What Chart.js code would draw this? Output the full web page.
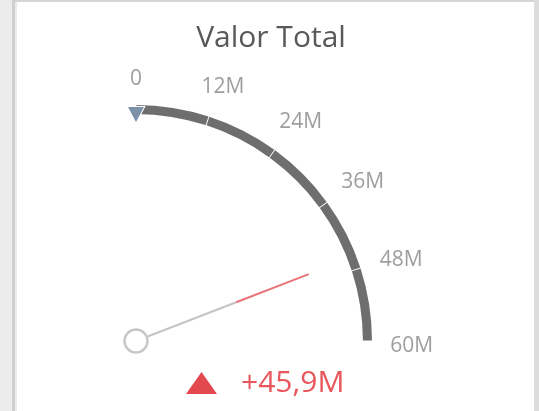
<!DOCTYPE html>
<html>
<head>
<meta charset="utf-8">
<script src="https://cdn.jsdelivr.net/npm/chart.js@4.4.0/dist/chart.umd.min.js"></script>
<style>
  html, body { margin: 0; padding: 0; background: #fff; }
  body { width: 539px; height: 411px; position: relative; overflow: hidden; }
  .strip { position: absolute; }
  #leftGray { left: 0; top: 0; width: 12px; height: 411px; background: #ececec; }
  #leftLine { left: 12px; top: 0; width: 3px; height: 411px; background: #d0d0d0; }
  #leftSoft { left: 15px; top: 0; width: 2px; height: 411px; background: #ebebeb; }
  #topLine { left: 15px; top: 0; width: 524px; height: 2px; background: #d5d5d5; }
  #rightLine { left: 534px; top: 0; width: 5px; height: 411px; background: #dcdcdc; }
  canvas { position: absolute; left: 0; top: 0; }
</style>
</head>
<body>
<div class="strip" id="leftGray"></div>
<div class="strip" id="leftLine"></div>
<div class="strip" id="leftSoft"></div>
<div class="strip" id="topLine"></div>
<div class="strip" id="rightLine"></div>
<canvas id="gaugeChart" width="539" height="411"></canvas>
<script>
// --- data (values in millions) ---
const chartTitle = 'Valor Total';
const bandValues = [12, 12, 12, 12, 12];          // five equal bands 0 -> 60M
const tickValues = [0, 12, 24, 36, 48, 60];
const tickLabels = ['0', '12M', '24M', '36M', '48M', '60M'];
const gaugeValue = 45.9;
const targetValue = 0;
const deltaLabel = '+45,9M';

const FONT = '"Open Sans", "Noto Sans", sans-serif';

// draws ticks, target marker, needle and the delta text on top of the doughnut
const gaugeOverlay = {
    id: 'gaugeOverlay',
    afterDatasetsDraw(chart) {
        const ctx = chart.ctx;
        const arcs = chart.getDatasetMeta(0).data;
        const cx = arcs[0].x;
        const cy = arcs[0].y;
        const R = arcs[0].outerRadius;
        const a0 = arcs[0].startAngle;
        const a1 = arcs[arcs.length - 1].endAngle;
        const total = bandValues.reduce((s, v) => s + v, 0);
        const angleFor = v => a0 + (v / total) * (a1 - a0);

        ctx.save();

        // title
        ctx.fillStyle = '#595959';
        ctx.font = '30px ' + FONT;
        ctx.textAlign = 'center';
        ctx.textBaseline = 'alphabetic';
        ctx.fillText(chartTitle, 271, 47);

        // tick labels, nudged a little clockwise like the original
        ctx.font = '21px ' + FONT;
        ctx.fillStyle = '#9e9e9e';
        ctx.textBaseline = 'middle';
        tickValues.forEach((v, i) => {
            let a = angleFor(v);
            a += 0.017 * Math.min(1, 3 * Math.abs(Math.cos(a)));
            const hw = ctx.measureText(tickLabels[i]).width / 2;
            const hh = 9.5;
            const d = R + 19 + hw * 1.1 * Math.abs(Math.cos(a)) + hh * Math.abs(Math.sin(a));
            ctx.fillText(tickLabels[i], cx + d * Math.cos(a), cy + d * Math.sin(a));
        });

        // target marker (triangle pointing to the centre)
        const ta = angleFor(targetValue);
        const ux = Math.cos(ta), uy = Math.sin(ta);
        const px = -uy, py = ux;
        const bx = cx + (R + 1) * ux, by = cy + (R + 1) * uy;
        ctx.beginPath();
        ctx.moveTo(bx + px * 8, by + py * 8);
        ctx.lineTo(bx - px * 8, by - py * 8);
        ctx.lineTo(bx - ux * 15, by - uy * 15);
        ctx.closePath();
        ctx.fillStyle = '#7b93a9';
        ctx.strokeStyle = '#ffffff';
        ctx.lineWidth = 2;
        ctx.stroke();
        ctx.fill();

        // needle
        const na = angleFor(gaugeValue);
        const nLen = R * 0.795;
        const nSplit = nLen * 0.58;
        ctx.lineWidth = 2;
        ctx.lineCap = 'butt';
        ctx.strokeStyle = '#c4c4c4';
        ctx.beginPath();
        ctx.moveTo(cx, cy);
        ctx.lineTo(cx + nSplit * Math.cos(na), cy + nSplit * Math.sin(na));
        ctx.stroke();
        ctx.strokeStyle = '#e8747a';
        ctx.beginPath();
        ctx.moveTo(cx + nSplit * Math.cos(na), cy + nSplit * Math.sin(na));
        ctx.lineTo(cx + nLen * Math.cos(na), cy + nLen * Math.sin(na));
        ctx.stroke();

        // pivot
        ctx.beginPath();
        ctx.arc(cx, cy, 11.5, 0, Math.PI * 2);
        ctx.fillStyle = '#ffffff';
        ctx.fill();
        ctx.strokeStyle = '#c8c8c8';
        ctx.lineWidth = 2.5;
        ctx.stroke();

        // delta text with up triangle
        ctx.beginPath();
        ctx.moveTo(186, 394);
        ctx.lineTo(217, 394);
        ctx.lineTo(201.5, 372);
        ctx.closePath();
        ctx.fillStyle = '#e2484d';
        ctx.fill();
        ctx.font = '30px ' + FONT;
        ctx.fillStyle = '#e8575b';
        ctx.textAlign = 'left';
        ctx.textBaseline = 'alphabetic';
        ctx.fillText(deltaLabel, 241, 392);

        ctx.restore();
    }
};

const ctxGauge = document.getElementById('gaugeChart').getContext('2d');

const gaugeChart = new Chart(ctxGauge, {
    type: 'doughnut',
    data: {
        labels: tickLabels.slice(1),
        datasets: [{
            data: bandValues,
            backgroundColor: '#6e6e6e',
            borderWidth: 0,
            spacing: 6
        }]
    },
    options: {
        responsive: false,
        animation: false,
        events: [],
        rotation: 0,
        circumference: 90,
        radius: 233,
        cutout: '96.1%',
        layout: { padding: { left: 0, right: 34, top: 38, bottom: 0 } },
        plugins: {
            legend: { display: false },
            title: { display: false },
            tooltip: { enabled: false }
        }
    },
    plugins: [gaugeOverlay]
});
</script>
</body>
</html>
